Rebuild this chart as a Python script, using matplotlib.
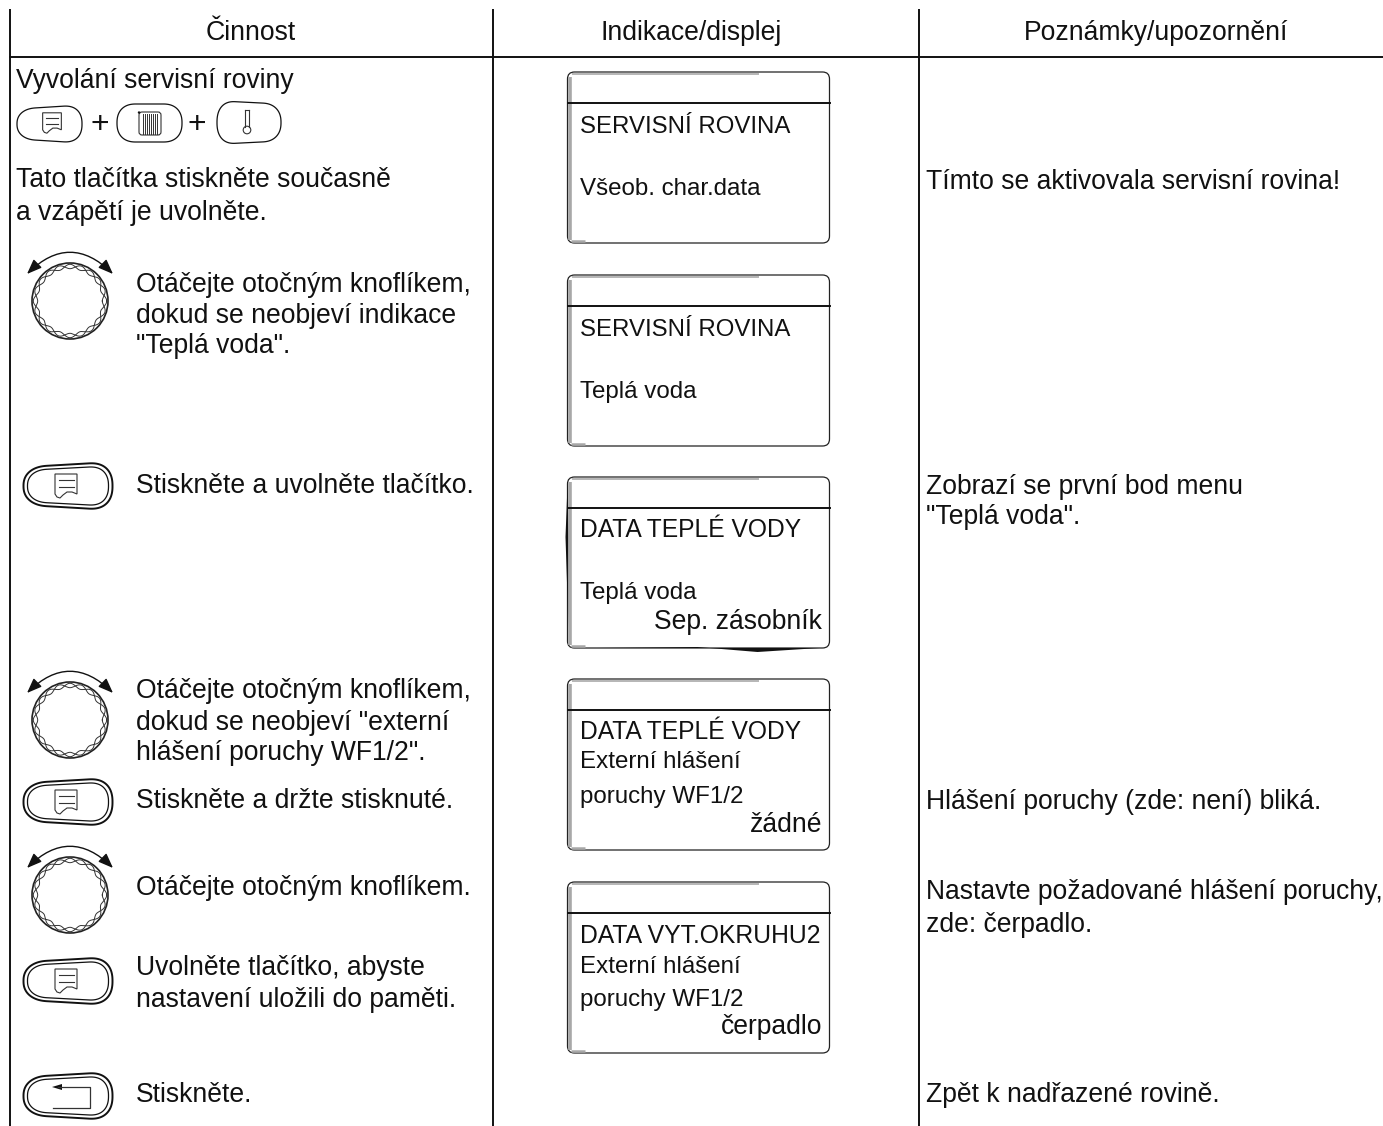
import numpy as np
import matplotlib
matplotlib.use("Agg")
import matplotlib.pyplot as plt
from matplotlib.patches import Circle, FancyArrowPatch, FancyBboxPatch, Polygon

WIDTH = 1383
HEIGHT = 1126
FONT = "Liberation Sans"
FONT_SIZE = 19.1
INK = "#111111"

header_labels = ["Činnost", "Indikace/displej", "Poznámky/upozornění"]
header_x = [251, 691, 1156]

# x, baseline, text
left_texts = [
    (15.5, 88, "Vyvolání servisní roviny"),
    (15.5, 187, "Tato tlačítka stiskněte současně"),
    (15.5, 220, "a vzápětí je uvolněte."),
    (136, 292, "Otáčejte otočným knoflíkem,"),
    (136, 323, "dokud se neobjeví indikace"),
    (136, 353, "\"Teplá voda\"."),
    (136, 493, "Stiskněte a uvolněte tlačítko."),
    (136, 698, "Otáčejte otočným knoflíkem,"),
    (136, 730, "dokud se neobjeví \"externí"),
    (136, 760, "hlášení poruchy WF1/2\"."),
    (136, 808, "Stiskněte a držte stisknuté."),
    (136, 895, "Otáčejte otočným knoflíkem."),
    (136, 975, "Uvolněte tlačítko, abyste"),
    (136, 1007, "nastavení uložili do paměti."),
    (136, 1102, "Stiskněte."),
]
right_texts = [
    (925.5, 189, "Tímto se aktivovala servisní rovina!"),
    (925.5, 494, "Zobrazí se první bod menu"),
    (925.5, 524, "\"Teplá voda\"."),
    (925.5, 809, "Hlášení poruchy (zde: není) bliká."),
    (925.5, 899, "Nastavte požadované hlášení poruchy,"),
    (925.5, 932, "zde: čerpadlo."),
    (925.5, 1102, "Zpět k nadřazené rovině."),
]

display_tops = [72, 275, 477, 679, 882]
display_titles = ["SERVISNÍ ROVINA", "SERVISNÍ ROVINA", "DATA TEPLÉ VODY", "DATA TEPLÉ VODY", "DATA VYT.OKRUHU2"]
display_title_y = [133, 336, 537, 739, 943]
display_title_size = [17.3, 17.3, 17.75, 17.75, 17.85]
# text, baseline
display_lines = [
    [("Všeob. char.data", 195)],
    [("Teplá voda", 398)],
    [("Teplá voda", 599)],
    [("Externí hlášení", 768), ("poruchy WF1/2", 803)],
    [("Externí hlášení", 973), ("poruchy WF1/2", 1006)],
]
display_values = ["", "", "Sep. zásobník", "žádné", "čerpadlo"]
display_value_y = [0, 0, 629, 832, 1034]

knob_y = [301, 720, 895]
menu_button_y = [486, 802, 981]
return_button_y = 1096


def text(ax, x, y, s, size=FONT_SIZE, ha="left"):
    ax.text(x, y, s, fontsize=size, family=FONT, color=INK, ha=ha, va="baseline")


def pill(ax, x0, y0, x1, y1, lw=1.1, flare=0.12):
    # rounded outline that gets a little taller towards the right, like the printed keys
    cx = (x0 + x1) / 2
    cy = (y0 + y1) / 2
    w = x1 - x0
    h = y1 - y0
    rad = h * 0.5
    t = np.linspace(0, 2 * np.pi, 240)
    px = np.sign(np.cos(t)) * np.abs(np.cos(t)) ** 0.85 * rad + cx + np.sign(np.cos(t)) * (w / 2 - rad)
    py = np.sign(np.sin(t)) * np.abs(np.sin(t)) ** 0.85 * rad + cy
    py = cy + (py - cy) * (1 + flare * (px - cx) / w * 2) / (1 + flare)
    ax.add_patch(Polygon(np.column_stack([px, py]), closed=True, fc="white", ec=INK, lw=lw))


def big_button(ax, cy):
    pill(ax, 23.5, cy - 24, 112.5, cy + 24, lw=1.4)
    pill(ax, 27.5, cy - 20, 108.5, cy + 20, lw=0.9)


def doc_icon(ax, cx, cy, scale=1.0):
    pts = np.array([(-11, -12), (11, -12), (11, 8), (6, 6), (1, 6), (-3, 9), (-6, 12), (-9, 11), (-11, 8)]) * scale
    ax.add_patch(Polygon(pts + (cx, cy), closed=True, fc="white", ec="#333333", lw=0.8))
    for dy in (-6, 1):
        ax.plot([cx - 7.5 * scale, cx + 7.5 * scale], [cy + dy * scale] * 2, color="#333333", lw=0.8)


def radiator_icon(ax, cx, cy):
    ax.add_patch(FancyBboxPatch((cx - 9, cy - 9.5), 18, 19, boxstyle="round,pad=2,rounding_size=3",
                                fc="white", ec="#333333", lw=0.8))
    for x in np.arange(cx - 7, cx + 8, 2.0):
        ax.plot([x, x], [cy - 10, cy + 10], color="#333333", lw=0.7)
    ax.add_patch(Circle((cx - 11, cy - 11), 1.2, fc=INK, ec="none"))


def thermometer_icon(ax, cx, cy):
    ax.plot([cx - 2, cx - 2], [cy - 11, cy + 6], color="#333333", lw=0.8)
    ax.plot([cx + 2, cx + 2], [cy - 11, cy + 6], color="#333333", lw=0.8)
    ax.add_patch(Circle((cx, cy + 9), 3.8, fc="white", ec="#333333", lw=0.8))
    ax.plot([cx - 2, cx + 2], [cy - 11, cy - 11], color="#333333", lw=0.8)


def return_icon(ax, cx, cy):
    ax.plot([cx - 14, cx + 18, cx + 18, cx - 19], [cy - 10, cy - 10, cy + 11, cy + 11], color="#333333", lw=0.9)
    ax.add_patch(Polygon([(cx - 20, cy - 10), (cx - 10, cy - 13), (cx - 10, cy - 7)], closed=True, fc=INK, ec="none"))


def knob(ax, cy):
    cx = 70
    ax.add_patch(Circle((cx, cy), 38, fc="white", ec="#222222", lw=1.2))
    t = np.linspace(0, 2 * np.pi, 600)
    for sign in (1, -1):
        r = 34.5 + sign * 2.2 * np.cos(10 * t)
        ax.plot(cx + r * np.cos(t), cy + r * np.sin(t), color="#333333", lw=0.7)
    ax.add_patch(FancyArrowPatch((cx + 43, cy - 27), (cx - 43, cy - 27), connectionstyle="arc3,rad=0.49",
                                 arrowstyle="<|-|>,head_length=9,head_width=3.5", color=INK, lw=1.0,
                                 shrinkA=0, shrinkB=0, mutation_scale=1))


def display(ax, top, rough):
    x0, x1 = 567.5, 829.5
    bottom = top + 171
    ax.add_patch(FancyBboxPatch((x0 + 7, top + 7), x1 - x0 - 14, bottom - top - 14,
                                boxstyle="round,pad=7,rounding_size=7", fc="white", ec="#222222", lw=0.9))
    ax.plot([x0 + 2.2, x0 + 2.2], [top + 5, bottom - 3], color="#a8a8a8", lw=2.6, solid_capstyle="butt")
    ax.plot([x0 + 3, x0 + 17], [bottom - 2, bottom - 2], color="#a8a8a8", lw=1.8, solid_capstyle="butt")
    ax.plot([x0 + 5, x0 + 190], [top + 1.5, top + 1.5], color="#b5b5b5", lw=1.4)
    ax.plot([x0, x1], [top + 30.5, top + 30.5], color=INK, lw=1.4)
    if rough:
        ax.add_patch(Polygon([(x0, top + 8), (x0 - 2, top + 60), (x0 + 1, bottom - 20), (x0 + 1, top + 60)],
                             closed=True, fc=INK, ec="none"))
        ax.add_patch(Polygon([(x0 + 30, bottom), (x0 + 130, bottom - 1), (x0 + 190, bottom + 4), (x1 - 10, bottom)],
                             closed=True, fc=INK, ec="none"))


def main():
    fig = plt.figure(figsize=(WIDTH / 100, HEIGHT / 100), dpi=100)
    ax = fig.add_axes([0, 0, 1, 1])
    ax.set_xlim(0, WIDTH)
    ax.set_ylim(HEIGHT, 0)
    ax.axis("off")

    # table lines
    ax.plot([9, WIDTH], [57, 57], color=INK, lw=1.4, solid_capstyle="butt")
    for x in (10, 493, 919):
        ax.plot([x, x], [9, HEIGHT], color=INK, lw=1.4, solid_capstyle="butt")

    for s, x in zip(header_labels, header_x):
        text(ax, x, 40, s, ha="center")
    for x, y, s in left_texts + right_texts:
        text(ax, x, y, s)

    # small button row
    pill(ax, 17, 105, 82, 143, lw=0.9)
    doc_icon(ax, 52, 123, 0.85)
    text(ax, 100, 133, "+", size=23, ha="center")
    pill(ax, 117, 104, 182, 142, lw=0.9, flare=0.0)
    radiator_icon(ax, 150, 123.5)
    text(ax, 197, 133, "+", size=23, ha="center")
    pill(ax, 217, 104, 281, 141, lw=0.9, flare=-0.08)
    thermometer_icon(ax, 247, 121)

    for y in knob_y:
        knob(ax, y)
    for y in menu_button_y:
        big_button(ax, y)
        doc_icon(ax, 66, y, 1.0)
    big_button(ax, return_button_y)
    return_icon(ax, 72, return_button_y + 1)

    for i, top in enumerate(display_tops):
        display(ax, top, rough=i == 2)
        text(ax, 580, display_title_y[i], display_titles[i], size=display_title_size[i])
        for s, y in display_lines[i]:
            text(ax, 580.5, y, s, size=17.4)
        if display_values[i]:
            text(ax, 822, display_value_y[i], display_values[i], ha="right")

    fig.savefig("out.png", dpi=100)
    plt.close(fig)


if __name__ == "__main__":
    main()
